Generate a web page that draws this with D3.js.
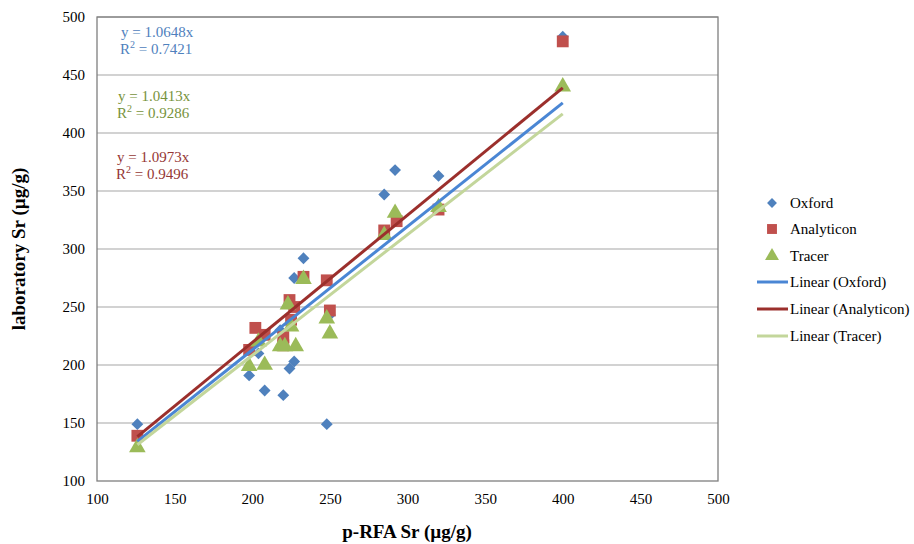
<!DOCTYPE html>
<html>
<head>
<meta charset="utf-8">
<script src="https://cdn.jsdelivr.net/npm/d3@7"></script>
<style>
  body { margin: 0; background: #fff; }
  svg { display: block; font-family: "Liberation Serif", "DejaVu Serif", serif; }
</style>
</head>
<body>
<svg id="chart" width="914" height="544"></svg>
<script>
// ---- data ----
const seriesNames = ["Oxford", "Analyticon", "Tracer"];
const oxfordX = [126, 198, 204, 208, 220, 218, 224, 227, 227, 233, 248, 250, 285, 292, 320, 400];
const oxfordY = [149, 191, 210, 178, 174, 230, 197, 203, 275, 292, 149, 243, 347, 368, 363, 483];
const analyticonX = [126, 198, 202, 208, 220, 220, 224, 225, 227, 233, 248, 250, 285, 293, 320, 400];
const analyticonY = [139, 213, 232, 226, 217, 224, 256, 239, 250, 276, 273, 247, 316, 324, 334, 479];
const tracerX = [126, 198, 204, 208, 218, 221, 223, 225, 228, 233, 248, 250, 285, 292, 320, 400];
const tracerY = [129, 199, 220, 200, 216, 216, 252, 233, 216, 274, 240, 227, 312, 331, 336, 440];
const trendSlopes = [1.0648, 1.0973, 1.0413];
const trendR2 = [0.7421, 0.9496, 0.9286];
const xTicks = [100, 150, 200, 250, 300, 350, 400, 450, 500];
const yTicks = [100, 150, 200, 250, 300, 350, 400, 450, 500];

// ---- styling ----
const markerColors = ["#4F81BD", "#C0504D", "#9BBB59"];
const lineColors = ["#4A86D4", "#9B2F2C", "#C3D69B"];
const eqColors = ["#4F81BD", "#77933C", "#953735"];

const svg = d3.select("#chart");
const m = { left: 97, right: 718, top: 17, bottom: 481 };
const x = d3.scaleLinear().domain([100, 500]).range([m.left, m.right]);
const y = d3.scaleLinear().domain([100, 500]).range([m.bottom, m.top]);

// gridlines
svg.append("g")
  .selectAll("line").data(yTicks.slice(1)).join("line")
  .attr("x1", m.left).attr("x2", m.right)
  .attr("y1", d => y(d)).attr("y2", d => y(d))
  .attr("stroke", "#A6A6A6").attr("stroke-width", 1.2);

// plot border
svg.append("rect")
  .attr("x", m.left).attr("y", m.top)
  .attr("width", m.right - m.left).attr("height", m.bottom - m.top)
  .attr("fill", "none").attr("stroke", "#7F7F7F").attr("stroke-width", 1.3);

// axes
const xAxis = svg.append("g").attr("transform", `translate(0,${m.bottom})`)
  .call(d3.axisBottom(x).tickValues(xTicks).tickSize(0).tickPadding(12));
const yAxis = svg.append("g").attr("transform", `translate(${m.left},0)`)
  .call(d3.axisLeft(y).tickValues(yTicks).tickSize(0).tickPadding(12));
[xAxis, yAxis].forEach(a => {
  a.select(".domain").remove();
  a.selectAll("text").attr("font-family", "Liberation Serif, serif")
    .attr("font-size", 15).attr("fill", "#000");
});

// markers
const sym = [d3.symbolSquare, d3.symbolSquare, d3.symbolTriangle];
const sizes = [70, 140, 120];
const rot = [45, 0, 0];
const sets = [[oxfordX, oxfordY], [analyticonX, analyticonY], [tracerX, tracerY]];
sets.forEach((s, i) => {
  const pts = s[0].map((v, j) => [v, s[1][j]]);
  svg.append("g").selectAll("path").data(pts).join("path")
    .attr("d", d3.symbol().type(sym[i]).size(sizes[i]))
    .attr("transform", d => `translate(${x(d[0])},${y(d[1])}) rotate(${rot[i]})`)
    .attr("fill", markerColors[i]);
});

// trendlines (through origin)
sets.forEach((s, i) => {
  const lo = d3.min(s[0]), hi = d3.max(s[0]);
  const line = d3.line().x(d => x(d)).y(d => y(trendSlopes[i] * d));
  svg.append("path").datum([lo, hi])
    .attr("d", line).attr("stroke", lineColors[i])
    .attr("stroke-width", 3).attr("fill", "none");
});

// equations
const eqPos = [[121, 37], [118, 101], [117, 162]];
const eqOrder = [0, 2, 1];
eqOrder.forEach((si, k) => {
  const g = svg.append("g").attr("fill", eqColors[k]).attr("font-size", 15);
  g.append("text").attr("x", eqPos[k][0]).attr("y", eqPos[k][1])
    .text(`y = ${trendSlopes[si].toFixed(4)}x`);
  const t = g.append("text").attr("x", eqPos[k][0] - 1).attr("y", eqPos[k][1] + 17);
  t.append("tspan").text("R");
  t.append("tspan").attr("dy", -6).attr("font-size", 10).text("2");
  t.append("tspan").attr("dy", 6).text(` = ${trendR2[si].toFixed(4)}`);
});

// axis titles
svg.append("text").attr("x", 407).attr("y", 538).attr("text-anchor", "middle")
  .attr("font-size", 19).attr("font-weight", "bold").text("p-RFA Sr (µg/g)");
svg.append("text").attr("transform", "translate(25,249) rotate(-90)")
  .attr("text-anchor", "middle").attr("font-size", 19).attr("font-weight", "bold")
  .text("laboratory Sr (µg/g)");

// legend
const legY = [203, 229, 256, 282, 309, 336];
const leg = svg.append("g").attr("font-size", 15);
seriesNames.forEach((n, i) => {
  leg.append("path")
    .attr("d", d3.symbol().type(sym[i]).size(sizes[i] * 0.7))
    .attr("transform", `translate(772,${legY[i]}) rotate(${rot[i]})`)
    .attr("fill", markerColors[i]);
  leg.append("text").attr("x", 790).attr("y", legY[i] + 5).text(n);
});
seriesNames.forEach((n, i) => {
  const yy = legY[i + 3];
  leg.append("line").attr("x1", 757).attr("x2", 788).attr("y1", yy).attr("y2", yy)
    .attr("stroke", lineColors[i]).attr("stroke-width", 3);
  leg.append("text").attr("x", 790).attr("y", yy + 5).text(`Linear (${n})`);
});
</script>
</body>
</html>
